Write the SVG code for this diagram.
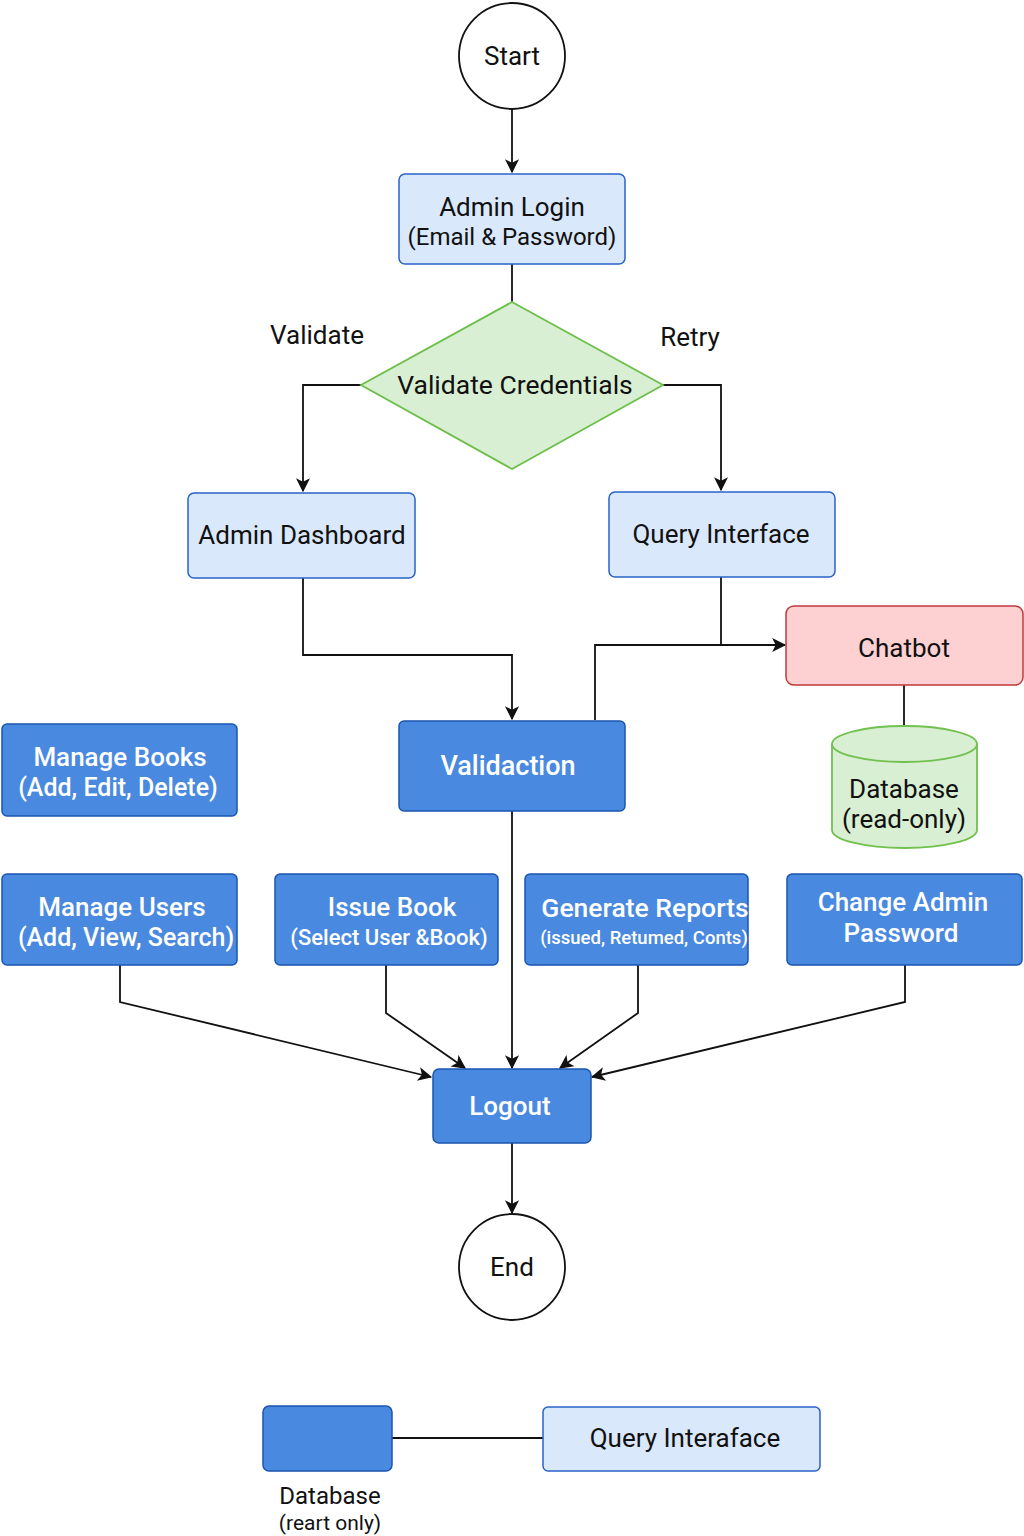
<svg xmlns="http://www.w3.org/2000/svg" width="1024" height="1536" viewBox="0 0 1024 1536">
<style>
text{font-family:Roboto,"Liberation Sans",sans-serif;text-anchor:middle}
.dk{fill:#111}
.wt{fill:#fff;font-weight:500}
.light{fill:#dae8fc;stroke:#2a62c8;stroke-width:1.5}
.blue{fill:#4a89e0;stroke:#1a56b0;stroke-width:1.5}
.circ{fill:#fff;stroke:#111;stroke-width:1.8}
.ln{fill:none;stroke:#111;stroke-width:1.8}
.arr{fill:none;stroke:#111;stroke-width:1.8;marker-end:url(#ah)}
</style>
<defs>
<marker id="ah" viewBox="0 0 12 12" refX="11" refY="6" markerWidth="15" markerHeight="14" markerUnits="userSpaceOnUse" orient="auto"><path d="M0,0 L12,6 L0,12 L3,6 Z" fill="#111"/></marker>
</defs>
<rect width="1024" height="1536" fill="#fff"/>
<g id="connectors">
<path class="arr" d="M512,108 V172"/>
<path class="ln" d="M512,264 V302"/>
<path class="arr" d="M361,385 H303 V491"/>
<path class="arr" d="M663,385 H721 V490"/>
<path class="arr" d="M303,578 V655 H512 V719"/>
<path class="ln" d="M721,577 V645"/>
<path class="arr" d="M595,720 V645 H785"/>
<path class="ln" d="M904,685 V727"/>
<path class="arr" d="M512,811 V1068"/>
<path class="arr" d="M120,965 V1002 L431,1077"/>
<path class="arr" d="M386,965 V1013 L465,1068"/>
<path class="arr" d="M638,965 V1013 L560,1068"/>
<path class="arr" d="M905,965 V1002 L592,1077"/>
<path class="arr" d="M512,1143 V1213"/>
<path class="ln" d="M392,1438 H543"/>
</g>
<g id="start">
<circle class="circ" cx="512" cy="56" r="53"/>
<text class="dk" x="512" y="65" font-size="26">Start</text>
</g>
<g id="admin-login">
<rect class="light" x="399" y="174" width="226" height="90" rx="6"/>
<text class="dk" x="512" y="216" font-size="26">Admin Login</text>
<text class="dk" x="512" y="245" font-size="24">(Email &amp; Password)</text>
</g>
<g id="validate-credentials">
<polygon points="512,302 663,385 512,469 361,385" fill="#d9efd3" stroke="#6cbf4a" stroke-width="1.8"/>
<text class="dk" x="515" y="394" font-size="26.5">Validate Credentials</text>
</g>
<text class="dk" x="317" y="344" font-size="26">Validate</text>
<text class="dk" x="690" y="346" font-size="26">Retry</text>
<g id="admin-dashboard">
<rect class="light" x="188" y="493" width="227" height="85" rx="6"/>
<text class="dk" x="302" y="544" font-size="26">Admin Dashboard</text>
</g>
<g id="query-interface">
<rect class="light" x="609" y="492" width="226" height="85" rx="6"/>
<text class="dk" x="721" y="543" font-size="26">Query Interface</text>
</g>
<g id="chatbot">
<rect x="786" y="606" width="237" height="79" rx="8" fill="#fdd0d2" stroke="#c0393b" stroke-width="1.5"/>
<text class="dk" x="904" y="657" font-size="26">Chatbot</text>
</g>
<g id="database">
<path d="M832,744 V830 A72.5,18 0 0 0 977,830 V744" fill="#d9efd3" stroke="#72c04f" stroke-width="1.8"/>
<ellipse cx="904.5" cy="744" rx="72.5" ry="18" fill="#d9efd3" stroke="#72c04f" stroke-width="1.8"/>
<text class="dk" x="904" y="798" font-size="26">Database</text>
<text class="dk" x="904" y="828" font-size="26">(read-only)</text>
</g>
<g id="validaction">
<rect class="blue" x="399" y="721" width="226" height="90" rx="5"/>
<text class="wt" x="508" y="775" font-size="27">Validaction</text>
</g>
<g id="manage-books">
<rect class="blue" x="2" y="724" width="235" height="92" rx="5"/>
<text class="wt" x="120" y="766" font-size="26">Manage Books</text>
<text class="wt" x="118" y="796" font-size="25">(Add, Edit, Delete)</text>
</g>
<g id="manage-users">
<rect class="blue" x="2" y="874" width="235" height="91" rx="5"/>
<text class="wt" x="122" y="916" font-size="26">Manage Users</text>
<text class="wt" x="126" y="946" font-size="25">(Add, View, Search)</text>
</g>
<g id="issue-book">
<rect class="blue" x="275" y="874" width="223" height="91" rx="5"/>
<text class="wt" x="392" y="916" font-size="26">Issue Book</text>
<text class="wt" x="389" y="945" font-size="22">(Select User &amp;Book)</text>
</g>
<g id="generate-reports">
<rect class="blue" x="525" y="874" width="223" height="91" rx="5"/>
<text class="wt" x="645" y="917" font-size="26.5">Generate Reports</text>
<text class="wt" x="644" y="944" font-size="18.5">(issued, Retumed, Conts)</text>
</g>
<g id="change-password">
<rect class="blue" x="787" y="874" width="235" height="91" rx="5"/>
<text class="wt" x="903" y="911" font-size="26">Change Admin</text>
<text class="wt" x="901" y="942" font-size="26">Password</text>
</g>
<g id="logout">
<rect class="blue" x="433" y="1069" width="158" height="74" rx="6"/>
<text class="wt" x="510" y="1115" font-size="26">Logout</text>
</g>
<g id="end">
<circle class="circ" cx="512" cy="1267" r="53"/>
<text class="dk" x="512" y="1276" font-size="26">End</text>
</g>
<g id="legend-database">
<rect class="blue" x="263" y="1406" width="129" height="65" rx="6"/>
<text class="dk" x="330" y="1504" font-size="24">Database</text>
<text class="dk" x="330" y="1530" font-size="21">(reart only)</text>
</g>
<g id="legend-query">
<rect class="light" x="543" y="1407" width="277" height="64" rx="5"/>
<text class="dk" x="685" y="1447" font-size="26">Query Interaface</text>
</g>
</svg>
